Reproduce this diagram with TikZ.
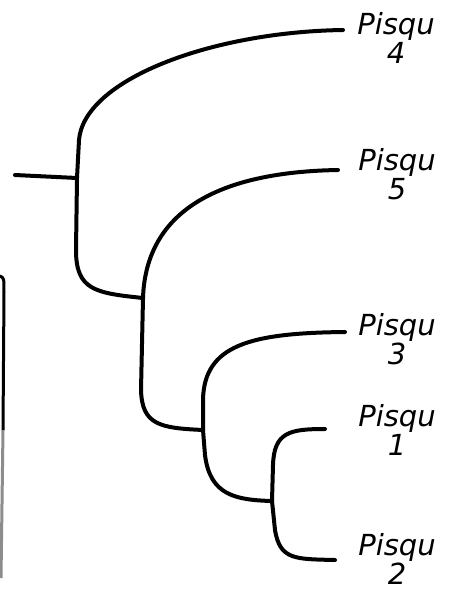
\documentclass[tikz,border=0pt]{standalone}
\usepackage{fontspec}
\setmainfont{DejaVu Sans}
\usepackage{tikz}
\usetikzlibrary{calc,positioning}
\tikzstyle{branch} = [draw, line width=4pt, line cap=round, line join=round]
\tikzstyle{taxon} = [align=center, inner sep=0pt, font=\itshape\fontsize{29}{29}\selectfont]

\begin{document}
\begin{tikzpicture}[x=1pt,y=-1pt]
      \useasboundingbox (0,0) rectangle (453,592);
      % inner nodes of the tree
      \coordinate (root) at (77,178);
      \coordinate (nB) at (143,298);
      \coordinate (nC) at (203,430);
      \coordinate (nD) at (272,501);
      % ends of the branches
      \coordinate (stem) at (15,175);
      \coordinate (leaf4) at (343,30);
      \coordinate (leaf5) at (338,170);
      \coordinate (leaf3) at (345,332);
      \coordinate (leaf1) at (325,429);
      \coordinate (leaf2) at (335,560);
      \node[taxon] (pisqu4) at (396,38) {Pisqu\\4};
      \node[taxon] (pisqu5) at (397,174) {Pisqu\\5};
      \node[taxon] (pisqu3) at (397,339) {Pisqu\\3};
      \node[taxon] (pisqu1) at (397,430) {Pisqu\\1};
      \node[taxon] (pisqu2) at (397,559) {Pisqu\\2};
      \draw[branch] (stem) -- (root);
      \draw[branch] (leaf4) .. controls (210,32) and (84,80) .. (79,140) -- (root) -- (76,250) .. controls (76,290) and (95,293) .. (nB);
      \draw[branch] (nB) .. controls (146,210) and (220,172) .. (leaf5);
      \draw[branch] (nB) -- (141,390) .. controls (142,425) and (160,428) .. (nC);
      \draw[branch] (nC) -- (203,400) .. controls (204,345) and (250,333) .. (leaf3);
      \draw[branch] (nC) -- (205,455) .. controls (210,495) and (235,500) .. (nD);
      \draw[branch] (nD) -- (273,465) .. controls (274,432) and (290,429) .. (leaf1);
      \draw[branch] (nD) -- (275,530) .. controls (280,560) and (295,559) .. (leaf2);
      % stroke cut off at the left edge
      \draw[line width=3pt, line cap=round] (0,276) .. controls (4,278) .. (4,292) -- (3,430);
      \draw[line width=3pt, black!45] (3,430) -- (1,578);
    \end{tikzpicture}
\end{document}
